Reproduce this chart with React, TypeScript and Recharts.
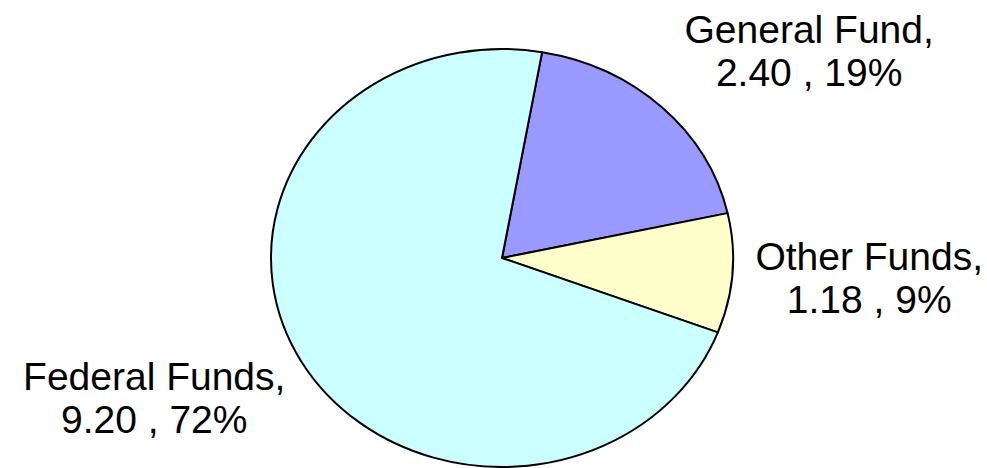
import React from 'react';
import { PieChart, Pie, Cell } from 'recharts';

const fundNames = ['General Fund', 'Other Funds', 'Federal Funds'];
const fundValues = [2.4, 1.18, 9.2];
const fundColors = ['#9999FF', '#FFFFCC', '#CCFFFF'];

const data = fundNames.map((name, i) => ({ name, value: fundValues[i] }));

const RAD = Math.PI / 180;
const Y_RATIO = 209 / 231;
const FONT = '"Liberation Sans", Arial, Helvetica, sans-serif';
const FONT_SIZE = 39;
const LINE_H = 43;

let ctx: CanvasRenderingContext2D | null = null;
const measure = (t: string) => {
  if (!ctx) {
    const cv = document.createElement('canvas');
    ctx = cv.getContext('2d');
  }
  if (!ctx) return t.length * FONT_SIZE * 0.55;
  ctx.font = `${FONT_SIZE}px ${FONT}`;
  return ctx.measureText(t).width;
};

const EllipseSector = (props: any) => {
  const { cx, cy, outerRadius, startAngle, endAngle, fill } = props;
  const rx = outerRadius;
  const ry = outerRadius * Y_RATIO;
  const p = (a: number) => [cx + rx * Math.cos(a * RAD), cy - ry * Math.sin(a * RAD)];
  const [x1, y1] = p(startAngle);
  const [x2, y2] = p(endAngle);
  const span = Math.abs(startAngle - endAngle);
  const large = span > 180 ? 1 : 0;
  const sweep = startAngle > endAngle ? 1 : 0;
  const d = `M ${cx},${cy} L ${x1},${y1} A ${rx} ${ry} 0 ${large} ${sweep} ${x2},${y2} Z`;
  return <path d={d} fill={fill} stroke="#000" strokeWidth={2} strokeLinejoin="round" />;
};

const renderLabel = (props: any) => {
  const { cx, cy, midAngle, outerRadius, name, value, percent } = props;
  const rx = outerRadius;
  const ry = outerRadius * Y_RATIO;
  const c = Math.cos(midAngle * RAD);
  const s = Math.sin(midAngle * RAD);
  const px = cx + (rx + 24 + 12 * s) * c;
  const py = cy - (ry + 33) * s;
  const center = py - s * 43;
  const b1 = center - 9;
  const pct = Math.round(percent * 100);
  const l1 = `${name},`;
  const l2 = `${value.toFixed(2)} , ${pct}%`;
  const w = Math.max(measure(l1), measure(l2));
  const mx = c >= 0 ? px + w / 2 : px - w / 2;
  return (
    <text x={mx} y={b1} textAnchor="middle" fontSize={FONT_SIZE} fontFamily={FONT} fill="#000">
      <tspan x={mx} y={b1}>{l1}</tspan>
      <tspan x={mx} y={b1 + LINE_H}>{l2}</tspan>
    </text>
  );
};

export default function App() {
  return (
    <div style={{ position: 'absolute', left: 0, top: 0, width: 987, height: 468, background: '#fff' }}>
      <PieChart width={987} height={468} margin={{ top: 0, right: 0, bottom: 0, left: 0 }}>
        <Pie
          data={data}
          dataKey="value"
          nameKey="name"
          cx={502}
          cy={258}
          outerRadius={231}
          startAngle={80}
          endAngle={-280}
          isAnimationActive={false}
          shape={EllipseSector}
          activeShape={EllipseSector}
          inactiveShape={EllipseSector}
          label={renderLabel}
          labelLine={false}
          stroke="#000"
        >
          {data.map((d, i) => (
            <Cell key={d.name} fill={fundColors[i]} />
          ))}
        </Pie>
      </PieChart>
    </div>
  );
}
